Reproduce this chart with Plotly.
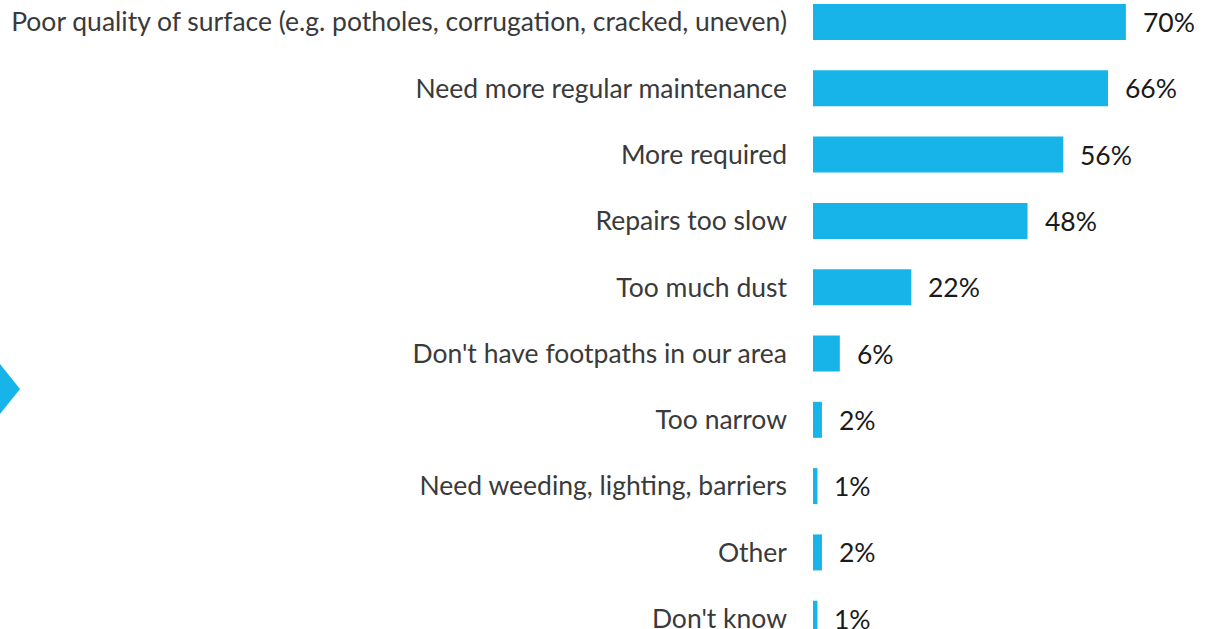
import plotly.graph_objects as go

categories = [
    "Poor quality of surface (e.g. potholes, corrugation, cracked, uneven)",
    "Need more regular maintenance",
    "More required",
    "Repairs too slow",
    "Too much dust",
    "Don't have footpaths in our area",
    "Too narrow",
    "Need weeding, lighting, barriers",
    "Other",
    "Don't know",
]
values = [70, 66, 56, 48, 22, 6, 2, 1, 2, 1]
value_labels = ["70%", "66%", "56%", "48%", "22%", "6%", "2%", "1%", "2%", "1%"]

W, H = 1209, 629
BAR = "#17b4e9"
FONT = "Lato"
FS = 26.5

fig = go.Figure()
fig.add_trace(go.Bar(
    y=categories, x=values, orientation="h",
    marker=dict(color=BAR, line=dict(width=0)),
    hoverinfo="skip",
))

for c, v, t in zip(categories, values, value_labels):
    fig.add_annotation(x=v, y=c, xref="x", yref="y", text=t, showarrow=False,
                       xanchor="left", xshift=15,
                       font=dict(family=FONT, size=FS, color="#1a1a1a"))

# chevron on the left edge (figure pixel coords -> paper)
pts = [(-10, 364), (0, 364), (20, 389), (0, 414), (-10, 414)]
path = "M " + " L ".join(f"{x / W:.5f},{1 - y / H:.5f}" for x, y in pts) + " Z"
fig.add_shape(type="path", path=path, xref="paper", yref="paper",
              fillcolor=BAR, line=dict(width=0), layer="above")

fig.update_layout(
    width=W, height=H,
    margin=dict(l=0, r=0, t=0, b=0),
    plot_bgcolor="white", paper_bgcolor="white",
    bargap=0.457,
    showlegend=False,
    font=dict(family=FONT, size=FS, color="#3a3a3a"),
    xaxis=dict(domain=[813 / W, 1], range=[0, 88.6], visible=False, fixedrange=True),
    yaxis=dict(range=[9.155, -0.332], showgrid=False, zeroline=False, showline=False,
               ticks="", ticklabelstandoff=25, automargin=False, fixedrange=True,
               tickfont=dict(family=FONT, size=FS, color="#3a3a3a")),
)

fig.write_html("out.html", config={"displayModeBar": False},
               post_script="document.body.style.margin='0';")
